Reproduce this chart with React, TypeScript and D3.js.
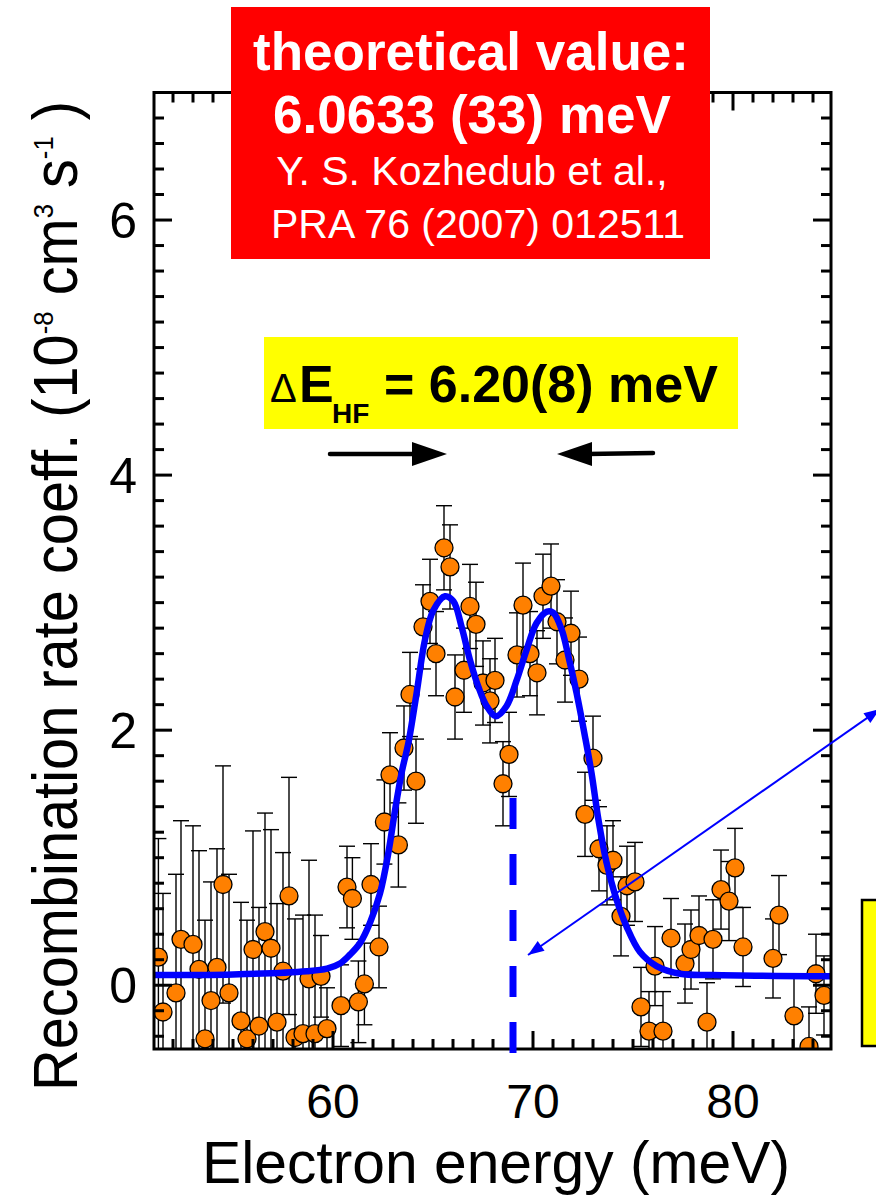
import React from "react";
import * as d3 from "d3";

// Measured recombination rate coefficient vs. electron energy
const energy = [
  51.27, 51.5, 52.15, 52.4, 53.0, 53.3, 53.6, 53.9, 54.2, 54.5, 54.8, 55.4,
  55.7, 56.0, 56.3, 56.6, 56.9, 57.2, 57.5, 57.8, 58.1, 58.5, 58.8, 59.1,
  59.4, 59.7, 60.4, 60.7, 60.97, 61.27, 61.57, 61.9, 62.3,
  62.57, 62.85, 63.27, 63.55, 63.85, 64.15, 64.5, 64.85, 65.15, 65.55, 65.85,
  66.1, 66.55, 66.85, 67.15, 67.5, 67.85, 68.1, 68.5, 68.8, 69.2, 69.5, 69.85,
  70.2, 70.5, 70.9, 71.2, 71.6, 71.9, 72.3, 72.6, 73.0, 73.3,
  73.7, 74.0, 74.4, 74.7, 75.1, 75.4, 75.8, 76.1, 76.5, 76.9, 77.6, 77.9,
  78.3, 78.7, 79.0, 79.4, 79.8, 80.1, 80.5, 82.0, 82.3, 83.05, 83.8, 84.15, 84.55,
];
const rate = [
  0.22, -0.21, -0.06, 0.36, 0.32, 0.125, -0.42, -0.12, 0.14, 0.79, -0.06, -0.28,
  -0.42, 0.28, -0.32, 0.42, 0.29, -0.29, 0.11, 0.7, -0.41, -0.38, 0.05, -0.38,
  0.07, -0.34, -0.16, 0.77, 0.68, -0.13, 0.01, 0.79, 0.3,
  1.28, 1.65, 1.1, 1.86, 2.28, 1.6, 2.81, 3.01, 2.6, 3.43, 3.28,
  2.26, 2.47, 2.97, 2.83, 2.37, 2.23, 2.39, 1.58, 1.81, 2.59, 2.98, 2.6,
  2.45, 3.05, 3.13, 2.85, 2.55, 2.76, 2.4, 1.34, 1.78, 1.07,
  0.94, 0.98, 0.54, 0.78, 0.81, -0.17, -0.36, 0.15, -0.36, 0.37, 0.17, 0.28,
  0.39, -0.29, 0.36, 0.75, 0.66, 0.92, 0.3, 0.21, 0.55, -0.24, -0.48, 0.09, -0.08,
];
const rateErr = [
  0.93, 0.93, 0.93, 0.93, 0.93, 0.93, 0.93, 0.93, 0.93, 0.93, 0.93, 0.93,
  0.93, 0.93, 0.93, 0.93, 0.93, 0.93, 0.93, 0.93, 0.93, 0.93, 0.93, 0.93,
  0.32, 0.32, 0.32, 0.32, 0.32, 0.32, 0.32, 0.32, 0.32,
  0.33, 0.33, 0.33, 0.33, 0.33, 0.33, 0.33, 0.33, 0.33, 0.33, 0.33,
  0.33, 0.33, 0.33, 0.33, 0.33, 0.33, 0.33, 0.33, 0.33, 0.33, 0.33, 0.33,
  0.33, 0.33, 0.33, 0.33, 0.33, 0.33, 0.33, 0.33, 0.33, 0.33,
  0.31, 0.31, 0.31, 0.31, 0.31, 0.31, 0.31, 0.31, 0.31, 0.31, 0.31, 0.31,
  0.31, 0.31, 0.31, 0.31, 0.31, 0.31, 0.31, 0.31, 0.31, 0.31, 0.31, 0.31, 0.31,
];

// Fitted double-peak model curve
const fitEnergy = [
  51.05, 55.0, 58.7, 59.7, 60.35, 60.85, 61.35, 61.85, 62.35, 62.77, 63.1, 63.45,
  63.77, 64.18, 64.6, 65.02, 65.6, 66.02, 66.43, 66.85, 67.27, 67.68, 68.15,
  68.68, 69.18, 69.68, 70.18, 70.7, 71.02, 71.43, 71.77, 72.18, 72.6, 72.93,
  73.27, 73.68, 74.18, 74.68, 75.35, 76.18, 77.35, 79.0, 84.9,
];
const fitRate = [
  0.08, 0.085, 0.11, 0.13, 0.17, 0.24, 0.33, 0.49, 0.72, 1.04, 1.37, 1.68,
  1.9, 2.29, 2.71, 2.94, 3.05, 3.01, 2.81, 2.55, 2.34, 2.19, 2.11,
  2.19, 2.39, 2.63, 2.84, 2.93, 2.92, 2.79, 2.58, 2.29, 1.95, 1.66,
  1.3, 0.96, 0.67, 0.46, 0.26, 0.15, 0.09, 0.08, 0.07,
];

const xMajorTicks = [60, 70, 80];
const xTickLabels = ["60", "70", "80"];
const yMajorTicks = [0, 2, 4, 6];
const yTickLabels = ["0", "2", "4", "6"];

const markerEnergy = 69.0;
const peakLeft = 65.7;
const peakRight = 71.2;

const FONT = "'Liberation Sans', Arial, Helvetica, sans-serif";

export default function App() {
  const W = 876;
  const H = 1199;
  const left = 154;
  const right = 831;
  const top = 92.5;
  const bottom = 1049;

  const x = d3.scaleLinear().domain([51.05, 84.9]).range([left, right]);
  const y = d3.scaleLinear().domain([-0.5, 7]).range([bottom, top]);

  const xMinor = d3.range(52, 85).filter((v) => !xMajorTicks.includes(v));
  const yMinor = d3
    .range(-2, 35)
    .filter((k) => k % 10 !== 0)
    .map((k) => k / 5);

  const fitLine = d3
    .line<number>()
    .x((_, i) => x(fitEnergy[i]))
    .y((_, i) => y(fitRate[i]))
    .curve(d3.curveCatmullRom.alpha(0.5));

  const cap = 8;
  const majorLen = 18;
  const minorLen = 10;

  // thin double-headed pointer
  const p1 = [528, 955];
  const p2 = [880, 709];
  const ang = Math.atan2(p2[1] - p1[1], p2[0] - p1[0]);
  const head = (tip: number[], dir: number) => {
    const L = 16;
    const hw = 6;
    const a = ang + (dir < 0 ? Math.PI : 0);
    const bx = tip[0] - L * Math.cos(a);
    const by = tip[1] - L * Math.sin(a);
    const nx = -Math.sin(a) * hw;
    const ny = Math.cos(a) * hw;
    return `${tip[0]},${tip[1]} ${bx + nx},${by + ny} ${bx - nx},${by - ny}`;
  };

  const arrowY = 454;

  return (
    <svg
      width={W}
      height={H}
      viewBox={`0 0 ${W} ${H}`}
      style={{ position: "absolute", left: 0, top: 0, background: "#fff" }}
      fontFamily={FONT}
    >
      <defs>
        <clipPath id="plotClip">
          <rect x={left} y={top} width={right - left} height={bottom - top} />
        </clipPath>
      </defs>

      {/* data with error bars */}
      <g clipPath="url(#plotClip)">
        {energy.map((e, i) => {
          const cx = x(e);
          const y0 = y(rate[i] - rateErr[i]);
          const y1 = y(rate[i] + rateErr[i]);
          return (
            <g key={"eb" + i} stroke="#000" strokeWidth={1.4}>
              <line x1={cx} x2={cx} y1={y0} y2={y1} />
              <line x1={cx - cap} x2={cx + cap} y1={y1} y2={y1} />
              <line x1={cx - cap} x2={cx + cap} y1={y0} y2={y0} />
            </g>
          );
        })}
        {energy.map((e, i) => (
          <circle
            key={"pt" + i}
            cx={x(e)}
            cy={y(rate[i])}
            r={9}
            fill="#FF8000"
            stroke="#000"
            strokeWidth={1.3}
          />
        ))}
        <path d={fitLine(fitEnergy) || ""} fill="none" stroke="#0000FF" strokeWidth={6.5} strokeLinejoin="round" />
      </g>

      {/* frame */}
      <rect x={left} y={top} width={right - left} height={bottom - top} fill="none" stroke="#000" strokeWidth={3} />

      {/* ticks on all four sides */}
      <g stroke="#000" strokeWidth={3}>
        {xMinor.map((v) => (
          <g key={"xm" + v}>
            <line x1={x(v)} x2={x(v)} y1={bottom} y2={bottom - minorLen} />
            <line x1={x(v)} x2={x(v)} y1={top} y2={top + minorLen} />
          </g>
        ))}
        {xMajorTicks.map((v) => (
          <g key={"xM" + v}>
            <line x1={x(v)} x2={x(v)} y1={bottom} y2={bottom - majorLen} />
            <line x1={x(v)} x2={x(v)} y1={top} y2={top + majorLen} />
          </g>
        ))}
        {yMinor.map((v) => (
          <g key={"ym" + v}>
            <line x1={left} x2={left + minorLen} y1={y(v)} y2={y(v)} />
            <line x1={right} x2={right - minorLen} y1={y(v)} y2={y(v)} />
          </g>
        ))}
        {yMajorTicks.map((v) => (
          <g key={"yM" + v}>
            <line x1={left} x2={left + majorLen} y1={y(v)} y2={y(v)} />
            <line x1={right} x2={right - majorLen} y1={y(v)} y2={y(v)} />
          </g>
        ))}
      </g>

      {/* tick labels */}
      {xMajorTicks.map((v, i) => (
        <text key={"xl" + v} x={x(v)} y={1118} textAnchor="middle" fontSize={48} fill="#000">
          {xTickLabels[i]}
        </text>
      ))}
      {yMajorTicks.map((v, i) => (
        <text key={"yl" + v} x={137} y={y(v) + 18} textAnchor="end" fontSize={50} fill="#000">
          {yTickLabels[i]}
        </text>
      ))}

      {/* axis titles */}
      <text x={496} y={1183} textAnchor="middle" fontSize={60} textLength={588} lengthAdjust="spacingAndGlyphs" fill="#000">
        Electron energy (meV)
      </text>
      <text
        transform="translate(77, 596) rotate(-90)"
        textAnchor="middle"
        fontSize={63}
        textLength={990}
        lengthAdjust="spacingAndGlyphs"
        fill="#000"
      >
        Recombination rate coeff. (10
        <tspan fontSize={28} dy={-24}>-8</tspan>
        <tspan dy={24}> cm</tspan>
        <tspan fontSize={28} dy={-24}>3</tspan>
        <tspan dy={24}> s</tspan>
        <tspan fontSize={28} dy={-24}>-1</tspan>
        <tspan dy={24}> )</tspan>
      </text>

      {/* marker line */}
      <line
        x1={x(markerEnergy)}
        x2={x(markerEnergy)}
        y1={798}
        y2={1053}
        stroke="#0000FF"
        strokeWidth={7}
        strokeDasharray="31 25"
      />

      {/* theory box */}
      <rect x={231} y={7} width={479} height={252} fill="#FF0000" />
      <g fill="#fff" textAnchor="middle">
        <text x={471} y={70} fontSize={53} fontWeight="bold">theoretical value:</text>
        <text x={472} y={133} fontSize={53} fontWeight="bold">6.0633 (33) meV</text>
        <text x={472} y={185} fontSize={41}>Y. S. Kozhedub et al.,</text>
        <text x={478} y={238} fontSize={41}>PRA 76 (2007) 012511</text>
      </g>

      {/* measured splitting */}
      <rect x={264} y={337} width={474} height={92} fill="#FFFF00" />
      <text y={402} fill="#000">
        <tspan x={270} fontSize={40}>Δ</tspan>
        <tspan x={299} fontSize={52} fontWeight="bold">E</tspan>
        <tspan x={332} y={423} fontSize={28} fontWeight="bold">HF</tspan>
        <tspan x={384} y={402} fontSize={52} fontWeight="bold">= 6.20(8) meV</tspan>
      </text>

      {/* peak arrows */}
      <g stroke="#000" strokeWidth={4.5} strokeLinecap="round">
        <line x1={330} x2={x(peakLeft) - 30} y1={arrowY} y2={arrowY} />
        <line x1={x(peakRight) + 30} x2={653} y1={arrowY} y2={arrowY - 1} />
      </g>
      <polygon
        points={`${x(peakLeft)},${arrowY} ${x(peakLeft) - 35},${arrowY - 12} ${x(peakLeft) - 35},${arrowY + 12}`}
        fill="#000"
      />
      <polygon
        points={`${x(peakRight)},${arrowY} ${x(peakRight) + 35},${arrowY - 12} ${x(peakRight) + 35},${arrowY + 12}`}
        fill="#000"
      />

      {/* pointer to inset */}
      <line x1={p1[0]} y1={p1[1]} x2={p2[0]} y2={p2[1]} stroke="#0000FF" strokeWidth={2} />
      <polygon points={head(p1, -1)} fill="#0000FF" />
      <polygon points={head(p2, 1)} fill="#0000FF" />

      {/* inset box edge */}
      <rect x={862} y={900} width={40} height={146} fill="#FFFF00" stroke="#000" strokeWidth={2.5} />
    </svg>
  );
}
